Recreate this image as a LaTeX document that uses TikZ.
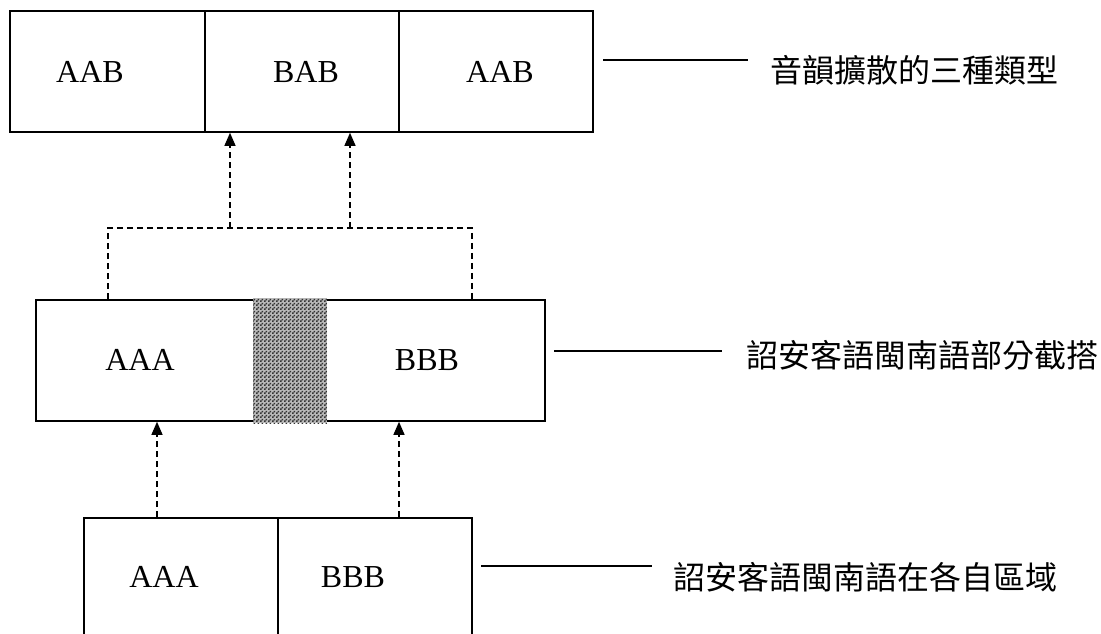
\documentclass[tikz,border=0pt]{standalone}
\usepackage{fontspec}
\setmainfont{Liberation Serif}
\newfontfamily\cjk{Noto Sans CJK TC}
\usetikzlibrary{arrows.meta,patterns.meta}
\pgfdeclarepattern{
  name=chk,
  type=uncolored,
  bottom left={\pgfpoint{0pt}{0pt}},
  top right={\pgfpoint{4pt}{4pt}},
  tile size={\pgfpoint{4pt}{4pt}},
  code={
    \pgfpathrectangle{\pgfpoint{0pt}{0pt}}{\pgfpoint{2pt}{2pt}}
    \pgfpathrectangle{\pgfpoint{2pt}{2pt}}{\pgfpoint{2pt}{2pt}}
    \pgfusepath{fill}
  }
}
\begin{document}
\begin{tikzpicture}[x=1pt,y=-1pt,
  cell/.style={draw,line width=1.6pt,inner sep=0pt,minimum height=121pt},
  lat/.style={font=\fontsize{32}{36}\selectfont,inner sep=0pt},
  lab/.style={font=\cjk\fontsize{32}{36}\selectfont,anchor=west,inner sep=0pt},
  dsh/.style={line width=1.3pt,dash pattern=on 6pt off 4pt},
  darr/.style={dsh,-{Triangle[width=11pt,length=13pt]}},
  lead/.style={line width=1.4pt}]
\useasboundingbox (0,0) rectangle (1101,634);
\clip (0,0) rectangle (1101,634);
% top row
\node[cell,minimum width=195pt] (t1) at (107.5,71.5) {};
\node[cell,minimum width=194pt] (t2) at (302,71.5) {};
\node[cell,minimum width=194pt] (t3) at (496,71.5) {};
\node[lat] (tx1) at (90,72) {AAB};
\node[lat] (tx2) at (306,72) {BAB};
\node[lat] (tx3) at (500,72) {AAB};
% middle box
\node[cell,minimum width=509pt] (m) at (290.5,360.5) {};
\fill[gray!55] (253,298) rectangle (327,423);
\fill[pattern=chk,pattern color=black!80] (253,298) rectangle (327,423);
\node[lat] (mx1) at (140,360) {AAA};
\node[lat] (mx2) at (427,360) {BBB};
% bottom row
\node[cell,minimum width=194pt] (b1) at (181,578.5) {};
\node[cell,minimum width=194pt] (b2) at (375,578.5) {};
\node[lat] (bx1) at (164,577) {AAA};
\node[lat] (bx2) at (353,577) {BBB};
% dashed connectors
\coordinate (jl) at (108,228);
\coordinate (jr) at (472,228);
\coordinate (ua) at (230,228);
\coordinate (ub) at (350,228);
\draw[dsh] (jl |- m.north) -- (jl) -- (jr) -- (jr |- m.north);
\draw[darr] (ua) -- (ua |- t2.south);
\draw[darr] (ub) -- (ub |- t2.south);
\coordinate (da) at (157,518);
\coordinate (db) at (399,518);
\draw[darr] (da |- b1.north) -- (da |- m.south);
\draw[darr] (db |- b2.north) -- (db |- m.south);
% labels
\node[lab] (L1) at (770,70) {音韻擴散的三種類型};
\node[lab] (L2) at (746,355) {詔安客語閩南語部分截搭};
\node[lab] (L3) at (673,577) {詔安客語閩南語在各自區域};
\coordinate (l1) at (603,60);
\coordinate (l2) at (554,351);
\coordinate (l3) at (481,566);
\draw[lead] (l1) -- ([xshift=-22pt]L1.west |- l1);
\draw[lead] (l2) -- ([xshift=-24pt]L2.west |- l2);
\draw[lead] (l3) -- ([xshift=-21pt]L3.west |- l3);
\end{tikzpicture}
\end{document}
